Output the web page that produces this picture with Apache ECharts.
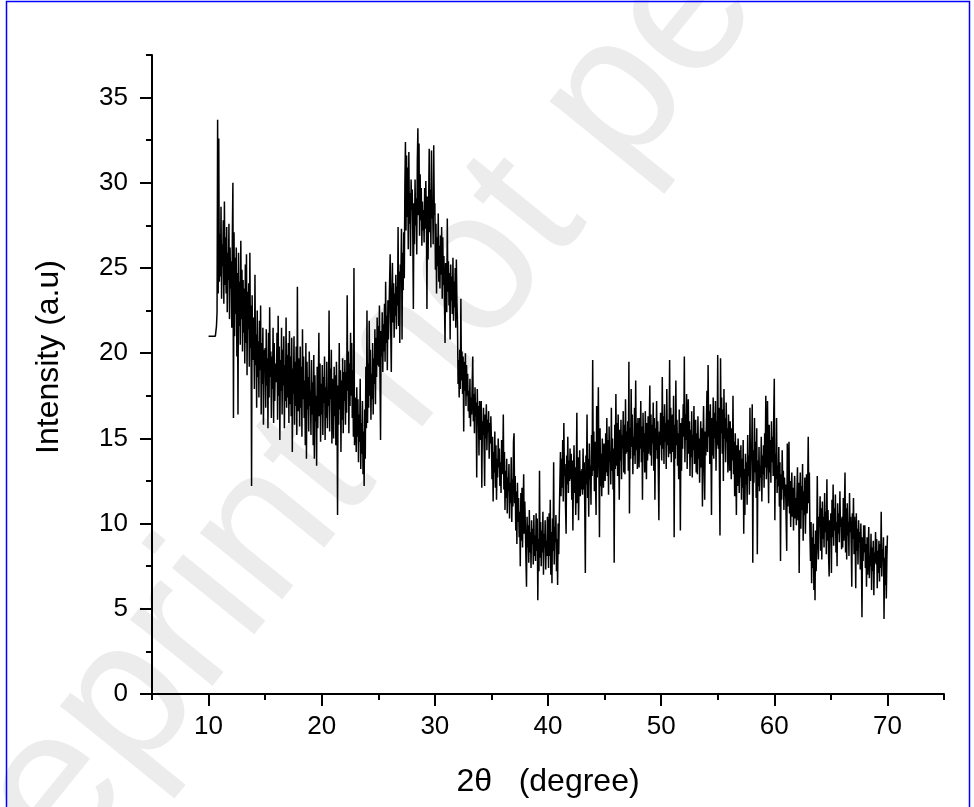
<!DOCTYPE html>
<html>
<head>
<meta charset="utf-8">
<script src="https://cdn.jsdelivr.net/npm/echarts@6/dist/echarts.min.js"></script>
<style>
  html, body { margin: 0; padding: 0; background: #fff; }
  #chart { width: 974px; height: 807px; }
</style>
</head>
<body>
<div id="chart"></div>
<script>
// scan grid: 10 to 70 deg, 0.05 deg step
const angleStart = 10;
const angleStep = 0.05;

// intensity (a.u), one row per degree (20 points each)
const intensity = [
  // 10
  21, 21, 21, 21, 21, 21, 21, 21, 21, 21, 21, 21, 21, 21, 21.6, 22.4, 33.7, 23.5, 32.6, 24.2,
  // 11
  27.0, 24.5, 28.6, 23.2, 26.4, 25.1, 27.8, 22.9, 28.9, 24.0, 26.8, 23.5, 27.4, 22.4, 25.9, 24.3, 27.6, 22.0, 26.2, 23.8,
  // 12
  25.4, 21.5, 26.8, 30.0, 16.2, 27.1, 21.0, 25.6, 22.3, 26.2, 19.8, 24.7, 16.4, 25.9, 21.6, 24.2, 20.5, 26.6, 22.0, 24.9,
  // 13
  20.1, 24.3, 21.2, 23.8, 19.4, 25.2, 20.6, 25.8, 18.7, 23.6, 21.4, 24.1, 19.2, 25.9, 20.3, 22.8, 12.2, 23.4, 19.6, 22.1,
  // 14
  21.8, 17.9, 24.6, 19.3, 21.1, 16.8, 22.5, 18.6, 20.7, 17.4, 21.9, 19.0, 22.8, 16.4, 20.6, 18.2, 21.5, 15.8, 20.2, 18.9,
  // 15
  20.3, 16.8, 21.4, 18.1, 19.7, 15.6, 21.2, 17.4, 22.7, 18.6, 20.1, 16.2, 19.8, 17.9, 21.5, 15.9, 20.6, 17.2, 19.4, 18.3,
  // 16
  18.7, 21.2, 16.1, 22.2, 17.5, 20.4, 14.9, 19.6, 17.8, 21.5, 16.4, 20.2, 18.1, 21.0, 15.6, 19.3, 17.2, 22.1, 16.8, 19.9,
  // 17
  17.4, 20.6, 15.9, 21.3, 17.0, 19.8, 16.3, 20.9, 14.2, 19.1, 17.6, 21.0, 15.8, 19.5, 16.9, 20.4, 15.2, 23.9, 16.6, 19.7,
  // 18
  18.9, 15.7, 20.4, 16.8, 19.2, 15.1, 21.4, 17.3, 19.8, 16.2, 18.4, 14.6, 20.6, 13.8, 19.5, 16.7, 18.6, 15.4, 20.1, 16.9,
  // 19
  17.8, 15.2, 19.6, 16.4, 18.3, 14.6, 19.9, 13.8, 18.7, 16.0, 17.5, 13.4, 19.2, 15.6, 18.1, 21.2, 16.3, 19.4, 14.8, 18.2,
  // 20
  16.4, 19.3, 15.2, 18.6, 17.1, 19.8, 14.9, 18.0, 16.2, 19.5, 15.6, 17.8, 16.9, 22.5, 15.4, 19.1, 17.3, 20.2, 14.7, 18.5,
  // 21
  17.6, 15.0, 19.2, 16.3, 18.7, 14.6, 19.5, 17.2, 10.5, 18.1, 15.8, 20.6, 16.7, 19.0, 14.2, 18.4, 16.1, 19.7, 15.3, 18.9,
  // 22
  17.2, 19.6, 15.8, 18.9, 16.5, 23.4, 17.8, 20.1, 15.3, 19.4, 16.9, 21.2, 17.5, 20.6, 16.2, 19.0, 15.1, 25.0, 14.6, 17.4,
  // 23
  16.8, 14.2, 18.0, 15.1, 17.3, 13.6, 16.4, 14.8, 18.5, 13.2, 15.9, 14.1, 17.2, 12.9, 15.4, 12.2, 16.7, 13.8, 19.2, 15.6,
  // 24
  22.5, 15.9, 19.4, 16.8, 21.9, 17.5, 20.2, 16.1, 18.8, 17.3, 20.6, 16.4, 19.7, 18.2, 21.4, 17.0, 20.9, 18.6, 22.1, 19.3,
  // 25
  21.6, 19.2, 22.8, 18.6, 14.9, 21.3, 19.8, 22.4, 18.9, 21.7, 20.1, 22.9, 19.5, 24.2, 20.6, 22.2, 19.0, 23.1, 20.8, 22.5,
  // 26
  22.4, 25.8, 21.3, 18.9, 23.6, 25.3, 21.8, 24.1, 20.9, 23.5, 22.2, 24.6, 21.4, 23.9, 22.8, 27.4, 21.6, 24.8, 20.6, 25.2,
  // 27
  24.6, 27.3, 20.8, 25.9, 23.7, 27.1, 24.4, 29.8, 32.4, 27.2, 31.6, 28.0, 30.9, 26.1, 31.8, 27.6, 29.4, 25.7, 30.2, 28.4,
  // 28
  29.6, 27.0, 22.6, 28.8, 26.4, 30.2, 27.5, 29.1, 25.8, 31.2, 33.2, 28.1, 32.3, 26.9, 30.5, 27.8, 29.7, 26.3, 28.9, 27.2,
  // 29
  28.4, 26.5, 29.7, 27.3, 30.1, 28.0, 22.6, 29.2, 25.5, 28.7, 32.0, 27.1, 29.6, 26.2, 31.9, 27.9, 29.0, 26.4, 32.2, 28.1,
  // 30
  28.8, 24.9, 27.6, 23.5, 26.8, 25.1, 28.2, 24.2, 26.3, 23.8, 26.9, 24.6, 27.4, 23.2, 26.8, 24.0, 25.7, 22.9, 20.6, 25.3,
  // 31
  24.1, 22.4, 27.9, 23.6, 25.4, 22.8, 24.7, 20.8, 25.2, 23.1, 24.5, 22.3, 25.6, 21.9, 24.2, 22.7, 25.0, 21.5, 25.5, 23.0,
  // 32
  21.8, 18.2, 19.6, 17.4, 20.2, 17.9, 23.2, 18.4, 20.1, 17.6, 19.8, 15.4, 19.5, 17.8, 20.0, 16.9, 19.3, 17.5, 18.8, 16.6,
  // 33
  17.8, 16.2, 18.5, 15.7, 17.4, 16.4, 18.3, 19.8, 16.0, 17.6, 15.3, 18.0, 16.3, 17.1, 12.7, 17.9, 15.8, 16.9, 14.0, 17.2,
  // 34
  16.5, 14.9, 17.2, 12.1, 16.0, 15.2, 16.8, 14.6, 12.2, 16.4, 15.0, 17.0, 14.3, 16.1, 15.4, 16.6, 13.8, 15.9, 14.7, 16.3,
  // 35
  14.8, 12.6, 15.1, 11.3, 14.2, 13.0, 15.4, 12.1, 14.6, 11.4, 13.8, 12.7, 15.0, 13.3, 14.4, 12.2, 13.6, 11.8, 14.9, 12.9,
  // 36
  13.4, 16.4, 12.0, 14.2, 10.8, 13.1, 11.5, 13.8, 10.6, 12.7, 11.9, 13.5, 10.3, 12.4, 11.2, 13.9, 10.1, 12.6, 11.0, 14.8,
  // 37
  15.3, 11.2, 12.8, 9.6, 11.9, 8.8, 12.4, 10.1, 11.5, 9.2, 10.7, 7.5, 11.8, 9.0, 12.1, 8.6, 10.9, 12.9, 9.4, 11.3,
  // 38
  9.8, 7.9, 6.3, 10.4, 8.6, 9.9, 7.7, 10.8, 8.3, 9.5, 7.4, 10.2, 8.8, 9.7, 7.6, 10.5, 8.1, 9.3, 7.8, 10.6,
  // 39
  8.4, 10.3, 5.5, 9.1, 7.2, 13.1, 8.0, 10.1, 7.5, 9.6, 8.3, 10.7, 7.0, 9.4, 8.6, 10.2, 7.3, 9.0, 8.1, 10.4,
  // 40
  9.2, 7.4, 10.6, 8.1, 11.4, 7.0, 9.5, 6.5, 10.3, 8.4, 13.6, 7.6, 9.8, 8.9, 10.5, 7.2, 9.1, 6.4, 10.0, 8.2,
  // 41
  10.5, 12.4, 14.2, 11.6, 13.8, 12.1, 14.9, 11.3, 15.9, 12.8, 13.5, 11.0, 9.4, 14.0, 12.3, 15.1, 11.8, 13.7, 12.5, 14.4,
  // 42
  12.6, 14.1, 11.4, 13.7, 9.6, 12.9, 14.6, 11.8, 13.3, 10.5, 12.7, 16.5, 11.2, 13.9, 10.2, 12.4, 14.3, 11.6, 13.1, 12.0,
  // 43
  13.2, 11.7, 14.4, 12.0, 13.6, 10.9, 7.1, 14.0, 12.3, 16.4, 11.5, 13.8, 10.4, 14.7, 12.6, 13.4, 11.1, 15.2, 12.8, 19.6,
  // 44
  13.1, 15.4, 11.9, 14.8, 12.4, 10.5, 16.9, 12.7, 14.5, 18.0, 13.3, 9.2, 15.6, 12.2, 14.1, 11.6, 15.0, 13.4, 12.1, 14.7,
  // 45
  14.6, 12.5, 15.3, 13.0, 16.2, 12.8, 14.9, 11.7, 15.7, 13.6, 14.2, 12.3, 16.8, 13.1, 15.0, 12.0, 14.4, 7.7, 15.8, 13.2,
  // 46
  17.6, 13.4, 15.9, 12.8, 16.4, 14.0, 11.4, 15.5, 13.7, 16.1, 12.6, 15.2, 14.4, 16.6, 13.0, 15.8, 12.9, 17.3, 14.1, 15.4,
  // 47
  14.2, 16.0, 13.1, 19.5, 10.6, 15.6, 13.8, 17.9, 14.5, 16.4, 12.9, 15.1, 14.0, 16.8, 13.5, 18.4, 14.3, 15.9, 13.2, 16.2,
  // 48
  14.9, 13.3, 16.2, 14.4, 17.2, 13.6, 15.7, 11.4, 16.5, 14.2, 15.3, 13.0, 16.6, 14.8, 12.6, 15.9, 13.7, 16.3, 14.1, 15.5,
  // 49
  18.1, 14.0, 16.4, 13.4, 15.8, 14.7, 17.1, 13.1, 16.2, 11.4, 15.6, 14.3, 17.2, 13.8, 16.0, 12.9, 10.2, 15.4, 14.6, 16.5,
  // 50
  15.2, 13.7, 18.6, 14.4, 16.3, 13.5, 17.0, 14.8, 15.9, 13.2, 17.9, 14.6, 16.1, 13.9, 15.5, 19.6, 14.1, 16.8, 13.6, 15.7,
  // 51
  16.4, 14.2, 17.5, 9.2, 15.8, 13.8, 18.4, 14.6, 16.1, 13.4, 15.3, 12.6, 16.7, 14.0, 9.6, 15.9, 13.1, 16.2, 14.4, 17.0,
  // 52
  15.1, 19.8, 13.6, 16.4, 14.9, 17.6, 13.2, 15.7, 17.3, 14.1, 16.0, 12.8, 15.5, 13.9, 16.6, 12.7, 15.2, 14.3, 16.9, 13.5,
  // 53
  14.6, 16.1, 13.0, 15.3, 12.9, 16.3, 13.8, 15.0, 12.4, 14.7, 16.0, 13.3, 15.6, 11.0, 14.8, 16.9, 13.6, 11.4, 15.4, 14.0,
  // 54
  15.9, 17.8, 14.2, 19.3, 15.1, 16.6, 13.5, 17.0, 14.7, 10.5, 16.2, 14.0, 17.4, 13.8, 16.5, 15.0, 17.2, 13.1, 16.0, 14.6,
  // 55
  19.9, 14.4, 16.8, 13.2, 9.3, 19.7, 15.3, 17.4, 14.1, 16.7, 12.5, 17.9, 15.0, 16.2, 13.6, 17.1, 14.8, 15.6, 13.0, 16.4,
  // 56
  15.2, 13.1, 16.0, 14.4, 12.6, 15.6, 13.7, 17.5, 12.9, 14.8, 11.6, 15.3, 13.4, 10.5, 14.6, 12.2, 15.0, 13.9, 11.8, 14.3,
  // 57
  12.7, 14.6, 11.4, 13.8, 12.1, 14.9, 9.4, 13.2, 10.5, 14.1, 12.3, 13.6, 11.1, 15.2, 12.8, 14.0, 11.7, 16.8, 12.5, 14.4,
  // 58
  13.9, 17.0, 7.7, 14.3, 12.4, 16.2, 13.0, 14.8, 11.5, 15.6, 8.2, 13.7, 12.2, 14.5, 11.9, 13.4, 12.7, 15.1, 11.3, 14.0,
  // 59
  12.9, 14.6, 12.1, 15.3, 13.3, 17.5, 12.6, 14.2, 17.2, 13.7, 11.2, 15.8, 13.0, 14.9, 12.4, 16.0, 13.6, 15.1, 12.8, 16.3,
  // 60
  18.5, 10.2, 14.1, 12.6, 16.2, 11.8, 13.4, 12.2, 14.5, 11.0, 13.6, 7.8, 12.9, 11.4, 14.3, 12.0, 13.1, 10.8, 12.7, 11.6,
  // 61
  12.3, 10.1, 8.4, 14.7, 11.0, 13.2, 14.8, 10.6, 12.5, 9.8, 11.9, 13.0, 10.4, 12.1, 9.6, 11.7, 12.8, 10.3, 11.5, 9.9,
  // 62
  11.8, 13.3, 10.2, 12.4, 7.1, 11.6, 13.0, 9.7, 12.2, 10.8, 13.5, 9.0, 11.9, 10.5, 12.7, 9.4, 11.3, 12.9, 10.6, 12.0,
  // 63
  15.1, 11.2, 13.0, 9.4, 7.8, 10.1, 6.5, 9.2, 7.4, 10.0, 6.1, 8.8, 5.5, 9.6, 7.2, 8.7, 12.8, 9.3, 7.9, 10.4,
  // 64
  9.8, 11.6, 8.4, 10.9, 7.9, 11.3, 9.1, 10.4, 8.6, 11.8, 9.5, 10.7, 8.2, 12.6, 9.0, 10.8, 8.1, 6.9, 10.2, 9.3,
  // 65
  10.6, 7.1, 11.4, 9.2, 12.3, 8.7, 10.9, 9.6, 11.7, 8.3, 10.1, 7.5, 11.2, 9.4, 10.6, 8.9, 11.9, 9.8, 10.3, 8.5,
  // 66
  10.4, 8.6, 11.5, 9.0, 10.8, 13.0, 8.3, 10.9, 7.9, 11.2, 9.3, 10.1, 8.1, 11.8, 9.5, 10.4, 8.7, 6.3, 10.6, 9.1,
  // 67
  11.5, 8.2, 10.4, 9.1, 6.2, 10.6, 8.4, 9.7, 7.6, 10.2, 8.9, 9.5, 7.3, 10.0, 8.1, 4.5, 9.2, 7.8, 9.9, 8.3,
  // 68
  9.9, 7.4, 8.8, 6.3, 9.2, 7.0, 8.5, 9.8, 6.8, 8.1, 7.5, 9.4, 6.1, 8.6, 7.2, 9.0, 5.8, 8.3, 7.7, 9.5,
  // 69
  7.6, 9.1, 6.2, 8.4, 7.1, 9.0, 6.6, 8.8, 7.4, 10.7, 6.9, 8.5, 7.8, 9.2, 4.4, 8.0, 6.4, 8.7, 5.6, 7.9,
  // 70
  9.3
];

const xMajorTicks = [10, 20, 30, 40, 50, 60, 70];
const xMinorTicks = [5, 15, 25, 35, 45, 55, 65, 75];
const yMajorTicks = [0, 5, 10, 15, 20, 25, 30, 35];
const yMinorTicks = [2.5, 7.5, 12.5, 17.5, 22.5, 27.5, 32.5, 37.5];

const font = 'Liberation Sans, Arial, sans-serif';
const axisColor = '#000';

const points = intensity.map((v, i) => [+(angleStart + i * angleStep).toFixed(2), v]);

const chart = echarts.init(document.getElementById('chart'));

chart.setOption({
  animation: false,
  backgroundColor: '#fff',
  grid: { left: 152, right: 30, top: 55, bottom: 113 },
  xAxis: [{
    type: 'value',
    min: 5,
    max: 75,
    position: 'bottom',
    name: '2\u03b8   (degree)',
    nameLocation: 'middle',
    nameGap: 72,
    nameTextStyle: { fontFamily: font, fontSize: 32, color: '#000' },
    axisLine: { show: true, onZero: false, lineStyle: { color: axisColor, width: 2 } },
    axisTick: { customValues: xMajorTicks, length: 12, lineStyle: { color: axisColor, width: 2 } },
    axisLabel: { customValues: xMajorTicks, margin: 20, fontFamily: font, fontSize: 26, color: '#000' },
    splitLine: { show: false }
  }, {
    type: 'value',
    min: 5,
    max: 75,
    position: 'bottom',
    axisLine: { show: false },
    axisTick: { customValues: xMinorTicks, length: 6, lineStyle: { color: axisColor, width: 2 } },
    axisLabel: { show: false },
    splitLine: { show: false }
  }],
  yAxis: [{
    type: 'value',
    min: 0,
    max: 37.5,
    position: 'left',
    axisLine: { show: true, onZero: false, lineStyle: { color: axisColor, width: 2 } },
    axisTick: { customValues: yMajorTicks, length: 12, lineStyle: { color: axisColor, width: 2 } },
    axisLabel: { customValues: yMajorTicks, margin: 24, fontFamily: font, fontSize: 26, color: '#000' },
    splitLine: { show: false }
  }, {
    type: 'value',
    min: 0,
    max: 37.5,
    position: 'left',
    axisLine: { show: false },
    axisTick: { customValues: yMinorTicks, length: 6, lineStyle: { color: axisColor, width: 2 } },
    axisLabel: { show: false },
    splitLine: { show: false }
  }],
  graphic: [
    {
      // faint preprint watermark
      type: 'text',
      x: -105,
      y: 990,
      rotation: 51 * Math.PI / 180,
      z: -10,
      silent: true,
      style: {
        text: 'Preprint not peer reviewed',
        fontFamily: font,
        fontSize: 200,
        fill: '#ececec',
        align: 'left',
        verticalAlign: 'middle'
      }
    },
    {
      type: 'text',
      x: 49,
      y: 357,
      rotation: Math.PI / 2,
      style: {
        text: 'Intensity (a.u)',
        fontFamily: font,
        fontSize: 32,
        fill: '#000',
        align: 'center',
        verticalAlign: 'middle'
      }
    },
    {
      type: 'rect',
      silent: true,
      shape: { x: 6.5, y: 1.5, width: 963, height: 820 },
      style: { fill: 'none', stroke: '#0000ff', lineWidth: 1.5 }
    }
  ],
  series: [{
    type: 'line',
    xAxisIndex: 0,
    yAxisIndex: 0,
    data: points,
    showSymbol: false,
    symbol: 'none',
    lineStyle: { color: '#000', width: 1.5 },
    z: 5
  }]
});
</script>
</body>
</html>
